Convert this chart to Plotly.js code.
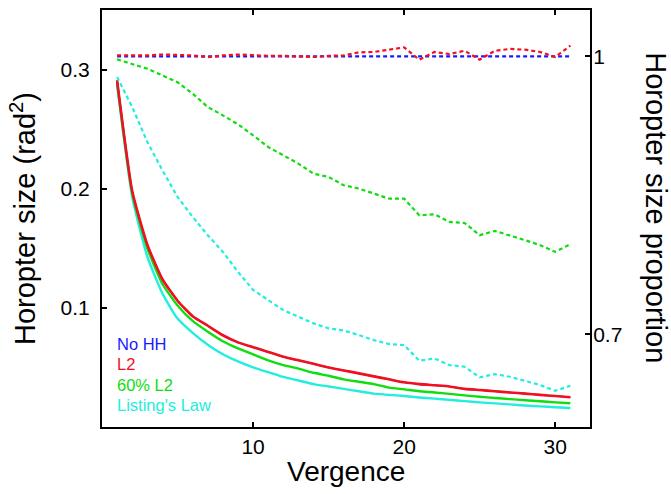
<!DOCTYPE html>
<html>
<head>
<meta charset="utf-8">
<script src="https://cdn.plot.ly/plotly-3.0.1.min.js"></script>
<style>html,body{margin:0;padding:0;background:#fff;}#chart{width:671px;height:494px;}</style>
</head>
<body>
<div id="chart"></div>
<script>
// Vergence values
const vergence = [1,2,3,4,5,6,7,8,9,10,11,12,13,14,15,16,17,18,19,20,21,22,23,24,25,26,27,28,29,30,31];

// Horopter size (rad^2), left axis
const sizeNoHH = [0.291,0.198,0.153,0.124,0.106,0.093,0.085,0.077,0.071,0.067,0.063,0.059,0.056,0.053,0.050,0.0475,0.045,0.0425,0.040,0.0375,0.036,0.035,0.034,0.032,0.031,0.030,0.029,0.028,0.027,0.026,0.025];
const sizeL2 = [0.291,0.198,0.153,0.124,0.106,0.093,0.085,0.077,0.071,0.067,0.063,0.059,0.056,0.053,0.050,0.0475,0.045,0.0425,0.040,0.0375,0.036,0.035,0.034,0.032,0.031,0.030,0.029,0.028,0.027,0.026,0.025];
const size60L2 = [0.289,0.196,0.150,0.120,0.102,0.089,0.080,0.072,0.066,0.061,0.056,0.052,0.049,0.0455,0.043,0.040,0.038,0.036,0.033,0.0316,0.030,0.029,0.0278,0.0265,0.0254,0.0244,0.0234,0.0225,0.0216,0.0207,0.0199];
const sizeListing = [0.287,0.193,0.143,0.112,0.091,0.079,0.069,0.061,0.055,0.050,0.046,0.042,0.039,0.036,0.034,0.032,0.030,0.028,0.027,0.026,0.0248,0.0238,0.0228,0.0217,0.0207,0.0198,0.019,0.018,0.0173,0.0166,0.0159];

// Horopter size proportion (relative to No HH), right axis
const propNoHH = [1,1,1,1,1,1,1,1,1,1,1,1,1,1,1,1,1,1,1,1,1,1,1,1,1,1,1,1,1,1,1];
const propL2 = [1.001,1.001,1.001,1.002,1.0015,1.001,0.999,1.001,1.002,1.001,1.0005,1.0005,1.0,0.9993,1.0005,1.001,1.0043,1.0047,1.0072,1.0097,0.9964,1.0047,1.0025,1.006,0.9964,1.006,1.008,1.0072,1.0047,0.9993,1.0115];
const prop60L2 = [0.9967,0.992,0.9866,0.9794,0.972,0.9597,0.9453,0.9363,0.9266,0.9148,0.9022,0.8932,0.8842,0.8734,0.8698,0.8609,0.8573,0.8519,0.8464,0.8464,0.8285,0.8296,0.8213,0.8202,0.807,0.8116,0.807,0.8016,0.7962,0.789,0.7973];
const propListing = [0.9776,0.9453,0.9076,0.877,0.8483,0.8267,0.807,0.789,0.7674,0.748,0.7369,0.7261,0.719,0.7118,0.7064,0.7042,0.6992,0.6938,0.6895,0.6884,0.6715,0.674,0.6668,0.665,0.6536,0.6571,0.6542,0.6499,0.6453,0.6391,0.6445];

const legendNames = ["No HH","L2","60% L2","Listing's Law"];
const colors = {blue:"#1a1aff", red:"#f2101e", green:"#10dd10", cyan:"#22eedd"};

const dotDash = "4px,3px";
const traces = [
  {x:vergence, y:propNoHH, yaxis:"y2", mode:"lines", line:{color:colors.blue, width:2.2, dash:dotDash}},
  {x:vergence, y:propL2, yaxis:"y2", mode:"lines", line:{color:colors.red, width:2.2, dash:dotDash}},
  {x:vergence, y:prop60L2, yaxis:"y2", mode:"lines", line:{color:colors.green, width:2.2, dash:dotDash}},
  {x:vergence, y:propListing, yaxis:"y2", mode:"lines", line:{color:colors.cyan, width:2.2, dash:dotDash}},
  {x:vergence, y:sizeListing, mode:"lines", line:{color:colors.cyan, width:2.4, shape:"spline", smoothing:0.5}},
  {x:vergence, y:size60L2, mode:"lines", line:{color:colors.green, width:2.4, shape:"spline", smoothing:0.5}},
  {x:vergence, y:sizeNoHH, mode:"lines", line:{color:colors.blue, width:1.6, shape:"spline", smoothing:0.5}},
  {x:vergence, y:sizeL2, mode:"lines", line:{color:colors.red, width:2.6, shape:"spline", smoothing:0.5}}
];

const FONT = "Liberation Sans, Arial, Helvetica, sans-serif";
const legendColors = [colors.blue, colors.red, colors.green, colors.cyan];
const annotations = legendNames.map((t,i)=>({
  text:t, xref:"paper", yref:"paper", x:0.027, y:(427-344-20.3*i)/417, xanchor:"left", yanchor:"middle",
  showarrow:false, font:{family:FONT, size:16.5, color:legendColors[i]}
}));
annotations.push({
  text:"Horopter size proportion", xref:"paper", yref:"paper", x:1.135, y:0.525,
  textangle:90, showarrow:false, xanchor:"center", yanchor:"middle",
  font:{family:FONT, size:29, color:"#000"}
});
annotations.push({
  text:"Vergence", xref:"paper", yref:"paper", x:0.5, y:-0.106,
  showarrow:false, xanchor:"center", yanchor:"middle", borderpad:0,
  font:{family:FONT, size:28, color:"#000"}
});

const layout = {
  width:671, height:494,
  margin:{l:102, r:81, t:10, b:67},
  paper_bgcolor:"#fff", plot_bgcolor:"#fff",
  showlegend:false,
  font:{family:FONT, color:"#000"},
  xaxis:{
    range:[0,32.3], tickvals:[10,20,30], ticks:"inside", ticklen:5, tickwidth:2, tickcolor:"#000",
    showline:true, linewidth:2, linecolor:"#000", mirror:"ticks", showgrid:false, zeroline:false,
    tickfont:{size:21, family:FONT}
  },
  yaxis:{
    range:[0,0.35], tickvals:[0.1,0.2,0.3], ticks:"inside", ticklen:5, tickwidth:2, tickcolor:"#000",
    showline:true, linewidth:2, linecolor:"#000", showgrid:false, zeroline:false,
    tickfont:{size:21, family:FONT}, ticklabelstandoff:6,
    title:{text:"Horopter size (rad<sup>2</sup>)", font:{size:29, family:FONT}, standoff:16}
  },
  yaxis2:{
    range:[0.6,1.05], tickvals:[0.7,1], ticktext:["0.7","1"], ticks:"inside", ticklen:5, tickwidth:2, tickcolor:"#000",
    overlaying:"y", side:"right", showline:true, linewidth:2, linecolor:"#000", showgrid:false, zeroline:false,
    tickfont:{size:21, family:FONT}, ticklabelstandoff:-3
  },
  annotations:annotations
};

Plotly.newPlot("chart", traces, layout, {staticPlot:true, displayModeBar:false});
</script>
</body>
</html>
